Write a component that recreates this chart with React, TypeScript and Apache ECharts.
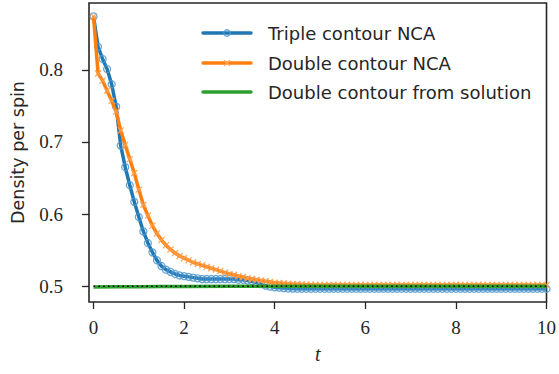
import React, { useEffect, useRef } from "react";
import * as echarts from "echarts";

const tValues = [
  0.0, 0.1, 0.2, 0.3, 0.4, 0.5, 0.6, 0.7, 0.8, 0.9,
  1.0, 1.1, 1.2, 1.3, 1.4, 1.5, 1.6, 1.7, 1.8, 1.9,
  2.0, 2.1, 2.2, 2.3, 2.4, 2.5, 2.6, 2.7, 2.8, 2.9,
  3.0, 3.1, 3.2, 3.3, 3.4, 3.5, 3.6, 3.7, 3.8, 3.9,
  4.0, 4.1, 4.2, 4.3, 4.4, 4.5, 4.6, 4.7, 4.8, 4.9,
  5.0, 5.1, 5.2, 5.3, 5.4, 5.5, 5.6, 5.7, 5.8, 5.9,
  6.0, 6.1, 6.2, 6.3, 6.4, 6.5, 6.6, 6.7, 6.8, 6.9,
  7.0, 7.1, 7.2, 7.3, 7.4, 7.5, 7.6, 7.7, 7.8, 7.9,
  8.0, 8.1, 8.2, 8.3, 8.4, 8.5, 8.6, 8.7, 8.8, 8.9,
  9.0, 9.1, 9.2, 9.3, 9.4, 9.5, 9.6, 9.7, 9.8, 9.9,
  10.0,
];

const tripleNCA = [
  0.874, 0.832, 0.815, 0.801, 0.780, 0.749, 0.695, 0.665, 0.640, 0.617,
  0.596, 0.576, 0.560, 0.547, 0.536, 0.528, 0.523, 0.520, 0.517, 0.515,
  0.514, 0.513, 0.512, 0.511, 0.510, 0.510, 0.510, 0.510, 0.510, 0.510,
  0.510, 0.510, 0.509, 0.509, 0.508, 0.507, 0.505, 0.503, 0.501, 0.4995,
  0.4985, 0.498, 0.4975, 0.497, 0.4968, 0.4966, 0.4966, 0.4966, 0.4966, 0.4966,
  0.4966, 0.4966, 0.4966, 0.4966, 0.4966, 0.4966, 0.4966, 0.4966, 0.4966, 0.4966,
  0.4966, 0.4966, 0.4966, 0.4966, 0.4966, 0.4966, 0.4966, 0.4966, 0.4966, 0.4966,
  0.4966, 0.4966, 0.4966, 0.4966, 0.4966, 0.4966, 0.4966, 0.4966, 0.4966, 0.4966,
  0.4966, 0.4966, 0.4966, 0.4966, 0.4966, 0.4966, 0.4966, 0.4966, 0.4966, 0.4966,
  0.4966, 0.4966, 0.4966, 0.4966, 0.4966, 0.4966, 0.4966, 0.4966, 0.4966, 0.4966,
  0.4966,
];

const doubleNCA = [
  0.874, 0.795, 0.785, 0.771, 0.757, 0.742, 0.716, 0.696, 0.676, 0.657,
  0.634, 0.613, 0.598, 0.584, 0.573, 0.564, 0.557, 0.551, 0.546, 0.542,
  0.539, 0.536, 0.533, 0.531, 0.529, 0.527, 0.525, 0.523, 0.521, 0.519,
  0.517, 0.516, 0.514, 0.513, 0.511, 0.510, 0.509, 0.508, 0.507, 0.506,
  0.505, 0.5045, 0.504, 0.5035, 0.503, 0.5028, 0.5025, 0.5022, 0.502, 0.5018,
  0.5016, 0.5016, 0.5016, 0.5016, 0.5016, 0.5016, 0.5016, 0.5016, 0.5016, 0.5016,
  0.5016, 0.5016, 0.5016, 0.5016, 0.5016, 0.5016, 0.5016, 0.5016, 0.5016, 0.5016,
  0.5016, 0.5016, 0.5016, 0.5016, 0.5016, 0.5016, 0.5016, 0.5016, 0.5016, 0.5016,
  0.5016, 0.5016, 0.5016, 0.5016, 0.5016, 0.5016, 0.5016, 0.5016, 0.5016, 0.5016,
  0.5016, 0.5016, 0.5016, 0.5016, 0.5016, 0.5016, 0.5016, 0.5016, 0.5016, 0.5016,
  0.5016,
];

const solutionT = [0, 0.5, 1, 1.5, 2, 3, 4, 5, 6, 7, 8, 9, 10];
const solutionValues = [0.499, 0.4993, 0.4995, 0.4997, 0.4998, 0.4999, 0.5, 0.5, 0.5, 0.5, 0.5, 0.5, 0.5];

const exactT = [0, 10];
const exactValues = [0.5, 0.5];

const xTicks = [0, 2, 4, 6, 8, 10];
const yTicks = [0.5, 0.6, 0.7, 0.8];

const seriesNames = ["Triple contour NCA", "Double contour NCA", "Double contour from solution"];

const BLUE = "#1f77b4";
const ORANGE = "#ff7f0e";
const GREEN = "#2ca02c";
const INK = "#262626";

const X_SYMBOL =
  "path://M0,1.3L1.3,0L5,3.7L8.7,0L10,1.3L6.3,5L10,8.7L8.7,10L5,6.3L1.3,10L0,8.7L3.7,5Z";

const SANS = "DejaVu Sans";
const SERIF = "Liberation Serif";

function legendGraphic() {
  const x0 = 203;
  const x1 = 251;
  const rows = [33, 63, 92];
  const els: any[] = [];
  const colors = [BLUE, ORANGE, GREEN];
  rows.forEach((y, i) => {
    els.push({
      type: "line",
      shape: { x1: x0, y1: y, x2: x1, y2: y },
      style: { stroke: colors[i], lineWidth: 3.5, lineCap: "round" },
    });
    if (i === 0) {
      els.push({
        type: "circle",
        shape: { cx: (x0 + x1) / 2, cy: y, r: 3.2 },
        style: { fill: "rgba(255,255,255,0)", stroke: "rgba(80,150,205,0.9)", lineWidth: 1.3 },
      });
    }
    if (i === 1) {
      const cx = (x0 + x1) / 2;
      els.push({
        type: "line",
        shape: { x1: cx - 3, y1: y - 3, x2: cx + 3, y2: y + 3 },
        style: { stroke: "rgba(255,170,100,0.95)", lineWidth: 1.3 },
      });
      els.push({
        type: "line",
        shape: { x1: cx - 3, y1: y + 3, x2: cx + 3, y2: y - 3 },
        style: { stroke: "rgba(255,170,100,0.95)", lineWidth: 1.3 },
      });
    }
    els.push({
      type: "text",
      x: 268,
      y: y,
      style: {
        text: seriesNames[i],
        fontFamily: SANS,
        fontSize: 18,
        fill: INK,
        verticalAlign: "middle",
        align: "left",
      },
    });
  });
  return els;
}

export default function App() {
  const ref = useRef<HTMLDivElement>(null);
  useEffect(() => {
    if (!ref.current) return;
    const chart = echarts.init(ref.current, null, { renderer: "svg" });
    const pairs = (xs: number[], ys: number[]) => xs.map((x, i) => [x, ys[i]]);
    chart.setOption({
      animation: false,
      grid: {
        left: 89,
        right: 11,
        top: 3,
        bottom: 72,
        show: true,
        borderColor: INK,
        borderWidth: 1.6,
        backgroundColor: "transparent",
      },
      graphic: legendGraphic(),
      xAxis: {
        type: "value",
        min: -0.1,
        max: 10,
        name: "t",
        nameLocation: "middle",
        nameGap: 42,
        nameTextStyle: { fontFamily: SERIF, fontStyle: "italic", fontSize: 20, color: INK },
        axisLine: { show: false, onZero: false },
        axisTick: { show: true, inside: false, length: 7, lineStyle: { color: INK, width: 1.3 }, customValues: xTicks },
        axisLabel: {
          customValues: xTicks,
          margin: 16,
          fontFamily: SERIF,
          fontSize: 19,
          color: INK,
          showMaxLabel: true,
          hideOverlap: false,
        },
        splitLine: { show: false },
      },
      yAxis: {
        type: "value",
        min: 0.4782,
        max: 0.8926,
        name: "Density per spin",
        nameLocation: "middle",
        nameGap: 62,
        nameRotate: 90,
        nameTextStyle: { fontFamily: SANS, fontSize: 17.5, color: INK },
        axisLine: { show: false, onZero: false },
        axisTick: { show: true, inside: false, length: 7, lineStyle: { color: INK, width: 1.3 }, customValues: yTicks },
        axisLabel: {
          customValues: yTicks,
          margin: 26,
          fontFamily: SERIF,
          fontSize: 19,
          color: INK,
          formatter: (v: number) => v.toFixed(1),
        },
        splitLine: { show: false },
      },
      series: [
        {
          name: seriesNames[0],
          type: "line",
          data: pairs(tValues, tripleNCA),
          color: BLUE,
          lineStyle: { color: BLUE, width: 3.5 },
          symbol: "circle",
          symbolSize: 7,
          itemStyle: { color: "rgba(255,255,255,0)", borderColor: "rgba(80,150,205,0.85)", borderWidth: 1.3 },
          z: 2,
        },
        {
          name: seriesNames[1],
          type: "line",
          data: pairs(tValues, doubleNCA),
          color: ORANGE,
          lineStyle: { color: ORANGE, width: 3.5 },
          symbol: X_SYMBOL,
          symbolSize: 7,
          itemStyle: { color: "rgba(255,160,80,0.9)" },
          z: 3,
        },
        {
          name: seriesNames[2],
          type: "line",
          data: pairs(solutionT, solutionValues),
          color: GREEN,
          lineStyle: { color: GREEN, width: 3.5 },
          showSymbol: false,
          symbol: "none",
          z: 4,
        },
        {
          name: "exact",
          type: "line",
          data: pairs(exactT, exactValues),
          lineStyle: { color: "#000000", width: 1.6, type: [1.6, 3.2] },
          showSymbol: false,
          symbol: "none",
          z: 5,
        },
      ],
    });
    return () => chart.dispose();
  }, []);
  return (
    <div
      ref={ref}
      style={{ position: "absolute", left: 0, top: 0, width: 559, height: 374 }}
    />
  );
}
